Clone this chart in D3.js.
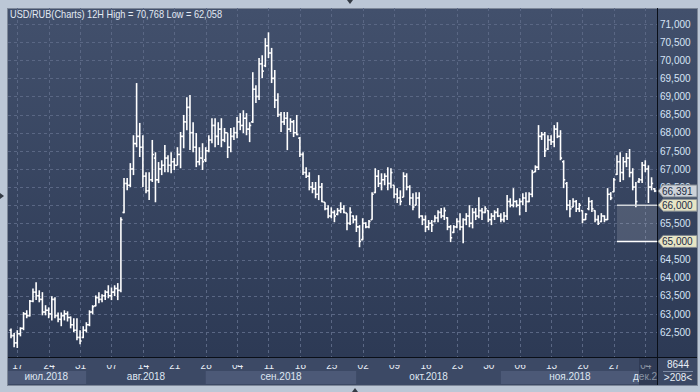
<!DOCTYPE html>
<html>
<head>
<meta charset="utf-8">
<script src="https://cdn.jsdelivr.net/npm/d3@7/dist/d3.min.js"></script>
<style>
  html, body { margin: 0; padding: 0; background: #bcc7d6; }
  svg { display: block; font-family: "Liberation Sans", Arial, sans-serif; }
</style>
</head>
<body>
<div id="chart"></div>
<script>
// 12H bars, Mon 16 Jul 2018 00:00 -> Wed 5 Dec 2018 12:00 (weekdays only)
const highs = [
  62.60,62.47,62.55,62.63,63.05,63.10,63.38,63.70,63.87,63.65,
  63.60,63.24,63.18,63.49,63.46,63.04,63.04,63.10,63.07,62.93,
  62.88,62.88,62.55,62.66,62.77,63.10,63.24,63.51,63.60,63.54,
  63.65,63.79,63.73,63.79,63.85,65.67,66.75,66.75,67.16,67.93,
  69.37,68.27,67.93,66.91,66.91,67.80,67.46,67.19,67.24,67.66,
  67.38,67.46,67.30,67.60,68.02,68.49,68.98,69.04,68.29,67.99,
  67.60,67.71,67.60,67.93,68.40,68.40,68.29,68.40,68.13,67.99,
  68.13,68.15,68.43,68.54,68.62,68.54,68.29,69.67,69.31,70.06,
  70.14,70.61,70.77,70.34,69.73,69.09,68.57,68.57,68.57,68.40,
  68.35,68.49,67.88,67.46,67.05,66.91,66.64,66.64,66.83,66.61,
  66.08,66.00,65.94,65.86,65.92,66.08,66.00,65.78,65.94,65.72,
  65.72,65.45,65.64,65.53,65.59,66.36,67.02,66.97,66.88,66.88,
  67.05,67.02,66.55,66.47,66.41,66.91,66.88,66.55,66.33,66.36,
  66.36,65.72,65.72,65.59,65.59,65.72,65.86,65.92,65.94,65.67,
  65.45,65.45,65.64,65.78,65.64,65.78,66.00,65.92,65.92,66.22,
  65.92,65.97,65.86,65.78,65.86,65.92,65.78,65.81,66.28,66.19,
  66.47,66.14,66.19,66.33,66.36,66.36,66.97,67.10,68.21,68.02,
  68.02,67.93,67.93,68.21,68.29,68.07,67.24,66.64,66.14,66.19,
  66.14,66.06,65.86,65.78,66.22,66.14,65.86,65.72,65.78,65.72,
  66.47,66.36,66.75,67.38,67.46,67.33,67.44,67.55,67.02,66.64,
  66.75,67.19,67.24,67.10,66.77,66.47
];
const lows = [
  62.33,62.08,62.06,62.38,62.55,62.88,62.93,63.32,63.38,63.32,
  62.96,62.96,62.88,62.82,62.88,62.77,62.66,62.82,62.79,62.60,
  62.49,62.27,62.16,62.33,62.49,62.66,62.99,63.21,63.29,63.32,
  63.38,63.43,63.38,63.49,63.38,63.60,65.78,66.41,66.50,66.83,
  67.60,67.33,66.50,66.33,66.14,66.64,66.08,66.61,66.83,66.91,
  66.91,66.88,66.97,67.10,67.02,67.57,68.07,67.52,67.46,67.05,
  67.10,66.97,67.19,67.46,67.71,67.60,67.66,67.60,67.74,67.30,
  67.46,67.80,67.85,68.07,67.99,67.93,67.74,68.27,68.82,68.90,
  69.51,69.81,70.06,69.37,68.68,68.43,68.02,68.21,67.52,68.02,
  67.88,67.93,67.33,66.83,66.75,66.41,66.33,66.19,66.14,66.08,
  65.86,65.64,65.64,65.53,65.72,65.78,65.78,65.31,65.45,65.50,
  65.26,64.84,65.03,65.36,65.36,65.60,66.33,66.50,66.41,66.55,
  66.41,66.47,66.19,66.06,66.00,66.22,66.41,66.00,65.86,66.00,
  65.64,65.45,65.26,65.31,65.26,65.53,65.53,65.64,65.59,65.31,
  64.98,65.23,65.36,65.31,64.95,65.45,65.39,65.36,65.59,65.64,
  65.59,65.78,65.53,65.45,65.59,65.67,65.53,65.53,65.59,65.94,
  65.94,65.94,65.72,66.00,65.81,66.08,66.22,66.91,66.97,67.80,
  67.33,67.52,67.66,67.60,67.85,67.24,66.47,65.86,65.67,65.94,
  65.81,65.81,65.50,65.59,65.86,65.81,65.53,65.45,65.53,65.53,
  65.59,66.14,66.36,66.83,66.64,66.69,67.05,66.77,66.41,65.94,
  66.61,66.61,66.91,66.06,66.41,66.36
];
const opens = [
  62.55,62.40,62.20,62.45,62.60,63.00,62.95,63.35,63.60,63.50,
  63.40,63.05,63.10,63.00,63.40,62.95,62.85,62.95,63.00,62.90,
  62.70,62.55,62.35,62.35,62.55,62.70,63.05,63.22,63.45,63.40,
  63.50,63.60,63.50,63.60,63.70,63.65,65.80,66.60,66.55,67.00,
  67.70,67.90,67.60,66.80,66.40,66.70,67.30,66.70,67.00,67.10,
  67.30,67.10,67.20,67.10,67.40,67.90,68.30,68.70,68.00,67.60,
  67.20,67.30,67.25,67.50,67.80,68.20,67.90,68.10,67.80,68.00,
  67.60,67.90,68.00,68.30,68.20,68.40,68.10,68.30,69.20,69.00,
  69.90,69.85,70.40,70.20,69.50,68.90,68.50,68.30,68.40,68.10,
  68.30,68.00,67.85,67.40,66.90,66.80,66.50,66.45,66.30,66.50,
  66.08,65.90,65.70,65.80,65.75,65.85,65.90,65.78,65.50,65.70,
  65.60,65.40,65.05,65.50,65.40,65.60,66.35,66.80,66.60,66.70,
  66.80,66.60,66.55,66.30,66.20,66.22,66.80,66.50,66.20,66.00,
  66.20,65.70,65.60,65.40,65.50,65.55,65.65,65.80,65.70,65.65,
  65.40,65.25,65.40,65.55,65.40,65.60,65.70,65.50,65.80,65.70,
  65.85,65.80,65.85,65.60,65.70,65.80,65.70,65.60,65.70,66.10,
  66.00,66.10,66.00,66.10,66.20,66.10,66.30,66.92,67.05,67.90,
  67.95,67.55,67.80,67.75,68.10,67.90,67.20,66.60,66.00,65.95,
  66.10,65.90,65.85,65.60,65.90,66.10,65.85,65.60,65.55,65.70,
  65.60,66.30,66.37,66.85,67.20,66.90,67.20,67.30,66.90,66.50,
  66.65,66.70,67.10,67.00,66.50,66.45
];
const closes = [
  62.40,62.20,62.45,62.60,63.00,62.95,63.35,63.60,63.50,63.40,
  63.05,63.10,63.00,63.40,62.95,62.85,62.95,63.00,62.90,62.70,
  62.55,62.35,62.25,62.55,62.70,63.05,63.20,63.45,63.40,63.50,
  63.60,63.50,63.60,63.70,63.65,65.60,66.60,66.55,67.00,67.70,
  67.90,67.60,66.80,66.40,66.70,67.40,66.70,67.00,67.10,67.30,
  67.10,67.20,67.10,67.40,67.90,68.30,68.70,68.00,67.60,67.20,
  67.30,67.20,67.50,67.80,68.20,67.90,68.10,67.80,68.00,67.60,
  67.90,68.00,68.30,68.20,68.40,68.10,68.20,69.20,69.00,69.90,
  69.70,70.40,70.20,69.50,68.90,68.50,68.30,68.40,68.10,68.30,
  68.00,67.95,67.40,66.90,66.80,66.50,66.45,66.30,66.50,66.10,
  65.90,65.70,65.80,65.70,65.85,65.90,65.80,65.50,65.80,65.60,
  65.40,65.00,65.50,65.40,65.55,66.30,66.80,66.60,66.70,66.80,
  66.60,66.90,66.30,66.20,66.10,66.80,66.50,66.20,65.95,66.20,
  65.70,65.60,65.40,65.50,65.45,65.65,65.80,65.70,65.85,65.40,
  65.10,65.40,65.55,65.40,65.60,65.70,65.50,65.80,65.70,65.85,
  65.80,65.90,65.60,65.70,65.80,65.70,65.60,65.70,66.10,66.00,
  66.10,66.00,66.10,66.20,66.10,66.30,66.90,67.05,67.90,67.95,
  67.50,67.80,67.75,68.10,67.90,67.30,66.70,66.00,65.90,66.10,
  65.90,66.00,65.60,65.75,66.10,65.90,65.60,65.50,65.70,65.60,
  66.30,66.20,66.70,67.20,66.90,67.20,67.30,66.90,66.50,66.10,
  66.70,67.10,67.00,66.50,66.60,66.391
];

// weekly ticks sit on the first bar of each Tuesday
const dayTickBars = [2,12,22,32,42,52,62,72,82,92,102,112,122,132,142,152,162,172,182,192,202];
const dayLabels = ["17","24","31","07","14","21","28","04","11","18","25","02","09","16","23","30","06","13","20","27","04"];
// month spans in bar index (first bar, last bar + 1)
const monthStarts = [-1.5,24,62,110,156,200];
const monthEnds   = [24,62,110,156,200,214];
const monthLabels = ["июл.2018","авг.2018","сен.2018","окт.2018","ноя.2018","дек.2018"];
const priceTicks = [62.5,63,63.5,64,64.5,65,65.5,66,66.5,67,67.5,68,68.5,69,69.5,70,70.5,71];
const levelLines = [66, 65];
const lastPrice = 66.391;

const W = 700, H = 392;
const plot = { left: 8, right: 657, top: 8, bottom: 357 };

const ruLocale = d3.formatLocale({ decimal: ",", thousands: " ", grouping: [3], currency: ["", ""] });
const fmt = ruLocale.format(".3f");

const svg = d3.select('#chart').append('svg').attr('width', W).attr('height', H);
const defs = svg.append('defs');

const grad = defs.append('linearGradient').attr('id', 'bg').attr('x1', 0).attr('y1', 0).attr('x2', 0).attr('y2', 1);
grad.append('stop').attr('offset', '0%').attr('stop-color', '#42506c');
grad.append('stop').attr('offset', '100%').attr('stop-color', '#2b3853');

defs.append('clipPath').attr('id', 'plotClip').append('rect')
    .attr('x', plot.left).attr('y', plot.top)
    .attr('width', plot.right - plot.left).attr('height', 385 - plot.top);

// outer panel
svg.append('rect').attr('x', 7.5).attr('y', 8.5).attr('width', 690).attr('height', 377)
    .attr('fill', 'url(#bg)').attr('stroke', '#7d8798');

// bottom axis band
svg.append('rect').attr('x', 8).attr('y', 357).attr('width', 689).attr('height', 28).attr('fill', '#3c4965');

const x = d3.scaleLinear().domain([0, 205]).range([11, 654.7]);
const y = d3.scaleLinear().domain([62.5, 71]).range([332, 24]);

// month bands
const mg = svg.append('g').attr('clip-path', 'url(#plotClip)');
mg.selectAll('rect.month').data(monthLabels).enter().append('rect')
    .attr('class', 'month')
    .attr('x', (d, i) => x(monthStarts[i]))
    .attr('y', 371)
    .attr('width', (d, i) => x(monthEnds[i]) - x(monthStarts[i]))
    .attr('height', 13)
    .attr('fill', (d, i) => i % 2 === 0 ? '#4c5977' : '#3c4965');
mg.selectAll('text.month').data(monthLabels).enter().append('text')
    .attr('class', 'month')
    .attr('x', (d, i) => i === monthLabels.length - 1 ? 633 : (x(monthStarts[i]) + x(monthEnds[i])) / 2)
    .attr('y', 380)
    .attr('text-anchor', (d, i) => i === monthLabels.length - 1 ? 'start' : 'middle')
    .attr('font-size', 10)
    .attr('fill', '#dfe7f2')
    .text(d => d);

// gridlines
const grid = svg.append('g');
grid.selectAll('line.h').data(priceTicks).enter().append('line')
    .attr('x1', plot.left).attr('x2', plot.right)
    .attr('y1', d => Math.round(y(d)) + 0.5).attr('y2', d => Math.round(y(d)) + 0.5)
    .attr('stroke', '#5a6784').attr('stroke-dasharray', '3,3');
grid.selectAll('line.v').data(dayTickBars).enter().append('line')
    .attr('y1', plot.top).attr('y2', plot.bottom)
    .attr('x1', d => Math.round(x(d)) + 0.5).attr('x2', d => Math.round(x(d)) + 0.5)
    .attr('stroke', '#5a6784').attr('stroke-dasharray', '3,3');

// highlighted range between the two level lines
const zoneX = 617;
svg.append('rect')
    .attr('x', zoneX).attr('y', y(levelLines[0]))
    .attr('width', plot.right - zoneX).attr('height', y(levelLines[1]) - y(levelLines[0]))
    .attr('fill', '#ffffff').attr('fill-opacity', 0.13);

// OHLC bars
const idx = d3.range(highs.length);
const bars = svg.append('g').attr('stroke', '#ffffff').attr('stroke-width', 1.6);
bars.selectAll('line.hl').data(idx).enter().append('line')
    .attr('x1', i => x(i)).attr('x2', i => x(i))
    .attr('y1', i => y(highs[i])).attr('y2', i => y(lows[i]));
bars.selectAll('line.o').data(idx).enter().append('line')
    .attr('x1', i => x(i) - 1.6).attr('x2', i => x(i))
    .attr('y1', i => y(opens[i])).attr('y2', i => y(opens[i]));
bars.selectAll('line.c').data(idx).enter().append('line')
    .attr('x1', i => x(i)).attr('x2', i => x(i) + 1.6)
    .attr('y1', i => y(closes[i])).attr('y2', i => y(closes[i]));

// level lines
svg.selectAll('line.level').data(levelLines).enter().append('line')
    .attr('x1', zoneX).attr('x2', plot.right)
    .attr('y1', d => y(d)).attr('y2', d => y(d))
    .attr('stroke', (d, i) => i === 0 ? '#d0d4da' : '#ffffff').attr('stroke-width', 1.5);

// axis frame lines
svg.append('line').attr('x1', plot.right + 0.5).attr('x2', plot.right + 0.5).attr('y1', 8).attr('y2', 385).attr('stroke', '#0a0f18');
svg.append('line').attr('x1', 8).attr('x2', 697).attr('y1', plot.bottom + 0.5).attr('y2', plot.bottom + 0.5).attr('stroke', '#0a0f18');

// price axis (levels with a tag get their text from the tag)
const yAxis = svg.append('g')
    .attr('transform', `translate(${plot.right},0)`)
    .call(d3.axisRight(y).tickValues(priceTicks.filter(v => !levelLines.includes(v)))
        .tickSize(0).tickPadding(3).tickFormat(fmt));
yAxis.select('.domain').remove();
yAxis.selectAll('text').attr('font-size', 10).attr('fill', '#d6e4f6').attr('font-family', '"Liberation Sans", Arial, sans-serif');

// date axis
const xAxis = svg.append('g')
    .attr('transform', `translate(0,${plot.bottom})`)
    .attr('clip-path', 'url(#plotClip)')
    .call(d3.axisBottom(x).tickValues(dayTickBars).tickSize(0).tickPadding(5).tickFormat((d, i) => dayLabels[i]));
xAxis.select('.domain').remove();
xAxis.selectAll('text').attr('font-size', 10).attr('fill', '#e8eef6').attr('font-family', '"Liberation Sans", Arial, sans-serif');

// dark block over the current month in the date axis
svg.append('rect').attr('x', x(monthStarts[5])).attr('y', 358).attr('width', plot.right - x(monthStarts[5])).attr('height', 27)
    .attr('fill', '#1e2840').attr('fill-opacity', 0.45);

// price tags
function tag(value, fill) {
    const ty = y(value);
    const g = svg.append('g');
    g.append('path')
        .attr('d', `M${plot.right + 1},${ty} L${plot.right + 6},${ty - 6} L697,${ty - 6} L697,${ty + 6} L${plot.right + 6},${ty + 6} Z`)
        .attr('fill', fill).attr('stroke', '#7f8790');
    g.append('text').attr('x', 662).attr('y', ty + 4)
        .attr('font-size', 10).attr('fill', '#1c2a44').text(fmt(value));
}
levelLines.forEach(v => tag(v, '#e7e5c5'));
tag(lastPrice, '#cdd2d9');

// bottom right corner info
svg.append('text').attr('x', 678).attr('y', 368).attr('text-anchor', 'middle').attr('font-size', 10).attr('fill', '#e8eef6').text('8644');
svg.append('line').attr('x1', 663).attr('x2', 693).attr('y1', 371.5).attr('y2', 371.5).attr('stroke', '#7d8aa3');
svg.append('text').attr('x', 678).attr('y', 381).attr('text-anchor', 'middle').attr('font-size', 10).attr('fill', '#e8eef6').text('>208<');

// title
svg.append('text').attr('x', 10).attr('y', 18).attr('font-size', 11).attr('fill', '#e3eaf4')
    .attr('textLength', 212).attr('lengthAdjust', 'spacingAndGlyphs')
    .text('USD/RUB(Charts) 12H  High = 70,768 Low = 62,058');

// small scroll markers on the frame
svg.append('path').attr('d', 'M347,0 L353,0 L350,4 Z').attr('fill', '#333a44');
svg.append('path').attr('d', 'M352,392 L358,392 L355,388 Z').attr('fill', '#333a44');
svg.append('path').attr('d', 'M0,193 L0,199 L4,196 Z').attr('fill', '#333a44');
</script>
</body>
</html>
